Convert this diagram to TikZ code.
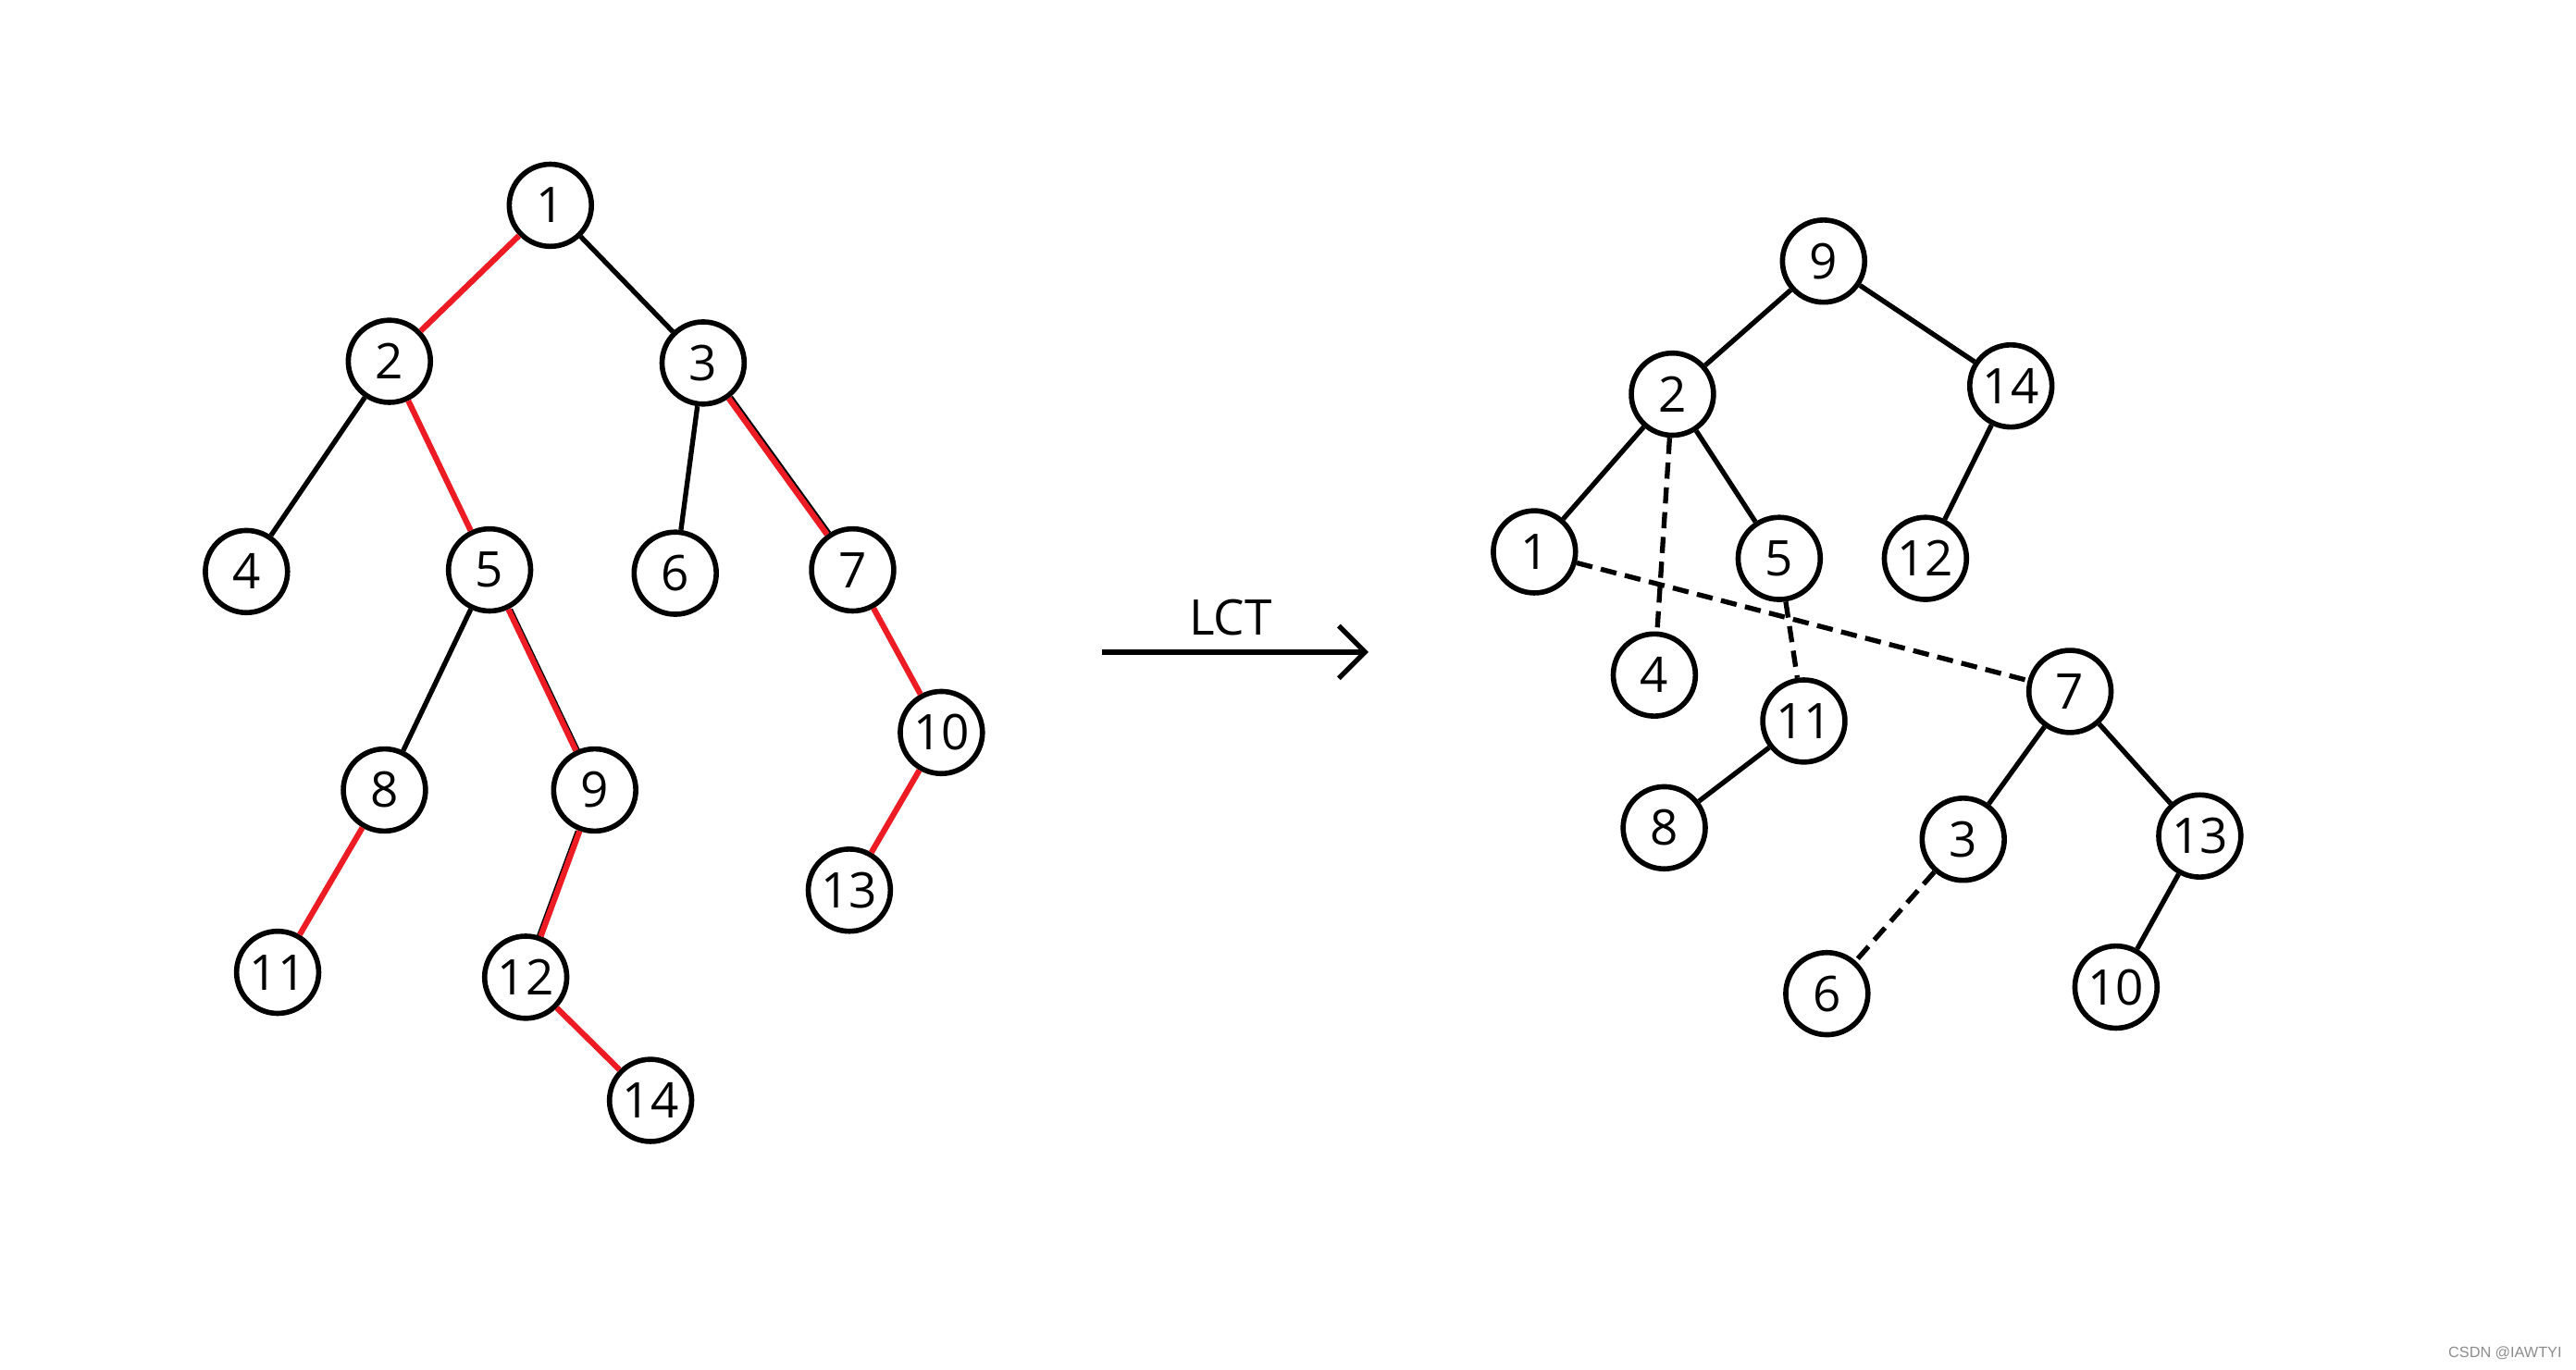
\documentclass[tikz,border=0pt]{standalone}
\usepackage{fontspec}
\setmainfont{Open Sans}
\newfontfamily\wmfont{Liberation Sans}
\usetikzlibrary{arrows.meta}
\definecolor{pred}{HTML}{ED1C24}
\tikzset{
  tn/.style={circle,draw=black,line width=0.9pt,minimum size=0.5cm,inner sep=0pt,font=\fontsize{8.5}{9}\selectfont},
  edge/.style={line width=0.85pt,black},
  redge/.style={line width=1pt,pred},
  blk/.style={line width=0.7pt,black},
  dedge/.style={line width=0.85pt,black,dash pattern=on 2.8pt off 1.5pt},
}
\begin{document}
\begin{tikzpicture}[x=0.01cm,y=-0.01cm]
\useasboundingbox (0,0) rectangle (1568,834);
% left tree
\node[tn] (a1) at (335,125) {1};
\node[tn] (a2) at (237,220) {2};
\node[tn] (a3) at (428,221) {3};
\node[tn] (a4) at (150,348) {4};
\node[tn] (a5) at (298,347) {5};
\node[tn] (a6) at (411,349) {6};
\node[tn] (a7) at (519,347) {7};
\node[tn] (a10) at (573,446) {10};
\node[tn] (a8) at (234,481) {8};
\node[tn] (a9) at (362,481) {9};
\node[tn] (a13) at (517,542) {13};
\node[tn] (a11) at (169,592) {11};
\node[tn] (a12) at (320,595) {12};
\node[tn] (a14) at (396,670) {14};
\draw[edge] (a1) -- (a3);
\draw[edge] (a2) -- (a4);
\draw[edge] (a5) -- (a8);
\draw[edge] (a3) -- (a6);
\draw[blk,transform canvas={xshift=0.4pt}] (a5) -- (a9);
\draw[blk,transform canvas={xshift=-0.4pt}] (a9) -- (a12);
\draw[blk,transform canvas={xshift=0.4pt,yshift=0.25pt}] (a3) -- (a7);
\draw[redge] (a1) -- (a2);
\draw[redge] (a2) -- (a5);
\draw[redge] (a5) -- (a9);
\draw[redge] (a9) -- (a12);
\draw[redge] (a12) -- (a14);
\draw[redge] (a3) -- (a7);
\draw[redge] (a7) -- (a10);
\draw[redge] (a10) -- (a13);
\draw[redge] (a8) -- (a11);
% arrow
\coordinate (arS) at (671,397);
\coordinate (arE) at (833,397);
\draw[line width=0.85pt,-{Straight Barb[length=0.16cm,width=0.32cm,line width=0.85pt]}] (arS) -- (arE);
\node[font=\fontsize{8.5}{9}\selectfont] (lct) at (749,376) {LCT};
% right tree
\node[tn] (b9) at (1110,159) {9};
\node[tn] (b2) at (1018,240) {2};
\node[tn] (b14) at (1224,235) {14};
\node[tn] (b1) at (934,336) {1};
\node[tn] (b5) at (1083,340) {5};
\node[tn] (b12) at (1172,340) {12};
\node[tn] (b4) at (1007,411) {4};
\node[tn] (b11) at (1098,439) {11};
\node[tn] (b7) at (1260,421) {7};
\node[tn] (b8) at (1013,504) {8};
\node[tn] (b3) at (1195,511) {3};
\node[tn] (b13) at (1339,509) {13};
\node[tn] (b6) at (1112,605) {6};
\node[tn] (b10) at (1288,601) {10};
\draw[edge] (b9) -- (b2);
\draw[edge] (b9) -- (b14);
\draw[edge] (b2) -- (b1);
\draw[edge] (b2) -- (b5);
\draw[edge] (b14) -- (b12);
\draw[edge] (b11) -- (b8);
\draw[edge] (b7) -- (b3);
\draw[edge] (b7) -- (b13);
\draw[edge] (b13) -- (b10);
\draw[dedge] (b2) -- (b4);
\draw[dedge] (b5) -- (b11);
\draw[dedge] (b1) -- (b7);
\draw[dedge] (b3) -- (b6);
% watermark
\node[font=\wmfont\fontsize{2.6}{3}\selectfont,text=black!45,anchor=east,inner sep=0pt] (wm) at (1560,824) {CSDN @IAWTYI};
\end{tikzpicture}
\end{document}
